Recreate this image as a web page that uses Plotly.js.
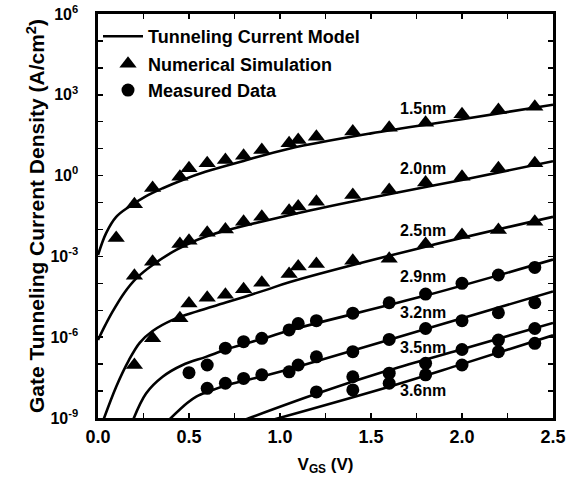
<!DOCTYPE html>
<html><head><meta charset="utf-8">
<script src="https://cdn.plot.ly/plotly-3.0.1.min.js"></script>
<style>html,body{margin:0;padding:0;background:#fff}#chart{width:579px;height:482px}</style>
</head><body><div id="chart"></div>
<script>
// ---- data ----
const thicknessLabels = ['1.5nm','2.0nm','2.5nm','2.9nm','3.2nm','3.5nm','3.6nm'];

// Tunneling current model curves (V_GS in V, J in A/cm^2)
const model15X = [0, 0.044, 0.1, 0.17, 0.26, 0.356, 0.465, 0.59, 0.8, 1.055, 1.5, 2.0, 2.5];
const model15Y = [1.12e-3, 7.2e-3, 0.0295, 0.069, 0.166, 0.34, 0.69, 1.38, 3.5, 10.2, 37, 123, 430];
const model20X = [0, 0.04, 0.08, 0.145, 0.209, 0.3, 0.43, 0.59, 1.055, 1.5, 2.0, 2.5];
const model20Y = [7.9e-7, 2.8e-6, 8.9e-6, 4.5e-5, 1.5e-4, 4.8e-4, 1.74e-3, 5.4e-3, 0.0347, 0.151, 0.69, 3.4];
const model25X = [0.02, 0.1, 0.17, 0.23, 0.3, 0.41, 0.54, 0.72, 0.92, 1.055, 1.8, 2.5];
const model25Y = [5.6e-10, 1.45e-8, 1.41e-7, 6.3e-7, 1.7e-6, 4.4e-6, 8.9e-6, 2.1e-5, 5.6e-5, 1.12e-4, 2.3e-3, 0.0295];
const model29X = [0.185, 0.264, 0.355, 0.465, 0.593, 0.72, 0.923, 1.055, 1.8, 2.5];
const model29Y = [6.3e-10, 8.1e-9, 3.4e-8, 9.3e-8, 1.86e-7, 3.8e-7, 9.5e-7, 1.82e-6, 3.5e-5, 7.6e-4];
const model32X = [0.37, 0.49, 0.54, 0.60, 0.74, 0.90, 1.055, 1.8, 2.5];
const model32Y = [6.3e-10, 3.6e-9, 6.2e-9, 9.3e-9, 1.9e-8, 3.5e-8, 6.6e-8, 2.0e-6, 5.0e-5];
const model35X = [0.72, 1.2, 1.6, 2.0, 2.5];
const model35Y = [5.2e-10, 7.9e-9, 6.0e-8, 3.6e-7, 3.4e-6];
const model36X = [0.9, 1.6, 2.0, 2.5];
const model36Y = [6.6e-10, 1.45e-8, 1.0e-7, 1.17e-6];

// Numerical simulation (triangles)
const sim15X = [0.1, 0.2, 0.3, 0.45, 0.5, 0.6, 0.7, 0.8, 0.9, 1.05, 1.1, 1.2, 1.4, 1.6, 1.8, 2.0, 2.2, 2.4];
const sim15Y = [4.8e-3, 0.087, 0.35, 0.91, 1.86, 2.9, 3.8, 5.5, 8.9, 15.8, 21, 27.5, 43, 60, 91, 190, 275, 363];
const sim20X = [0.2, 0.3, 0.45, 0.5, 0.6, 0.7, 0.8, 0.9, 1.05, 1.1, 1.2, 1.4, 1.6, 1.8, 2.0, 2.2, 2.4];
const sim20Y = [1.9e-4, 6.3e-4, 2.9e-3, 3.8e-3, 7.6e-3, 0.01, 0.0195, 0.0295, 0.05, 0.071, 0.107, 0.19, 0.29, 0.55, 0.91, 1.86, 2.9];
const sim25X = [0.2, 0.3, 0.45, 0.5, 0.6, 0.7, 0.8, 0.9, 1.05, 1.1, 1.2, 1.4, 1.6, 1.8, 2.0, 2.2, 2.4];
const sim25Y = [9.3e-8, 9.1e-7, 5.0e-6, 1.8e-5, 2.9e-5, 3.8e-5, 6.0e-5, 1.05e-4, 2.2e-4, 4.2e-4, 5.2e-4, 6.9e-4, 8.1e-4, 2.9e-3, 6.2e-3, 9.5e-3, 0.0195];

// Measured data (circles)
const meas29X = [0.5, 0.6, 0.7, 0.8, 0.9, 1.05, 1.1, 1.2, 1.4, 1.6, 1.8, 2.0, 2.2, 2.4];
const meas29Y = [4.8e-8, 9.3e-8, 3.9e-7, 6.8e-7, 9.1e-7, 1.86e-6, 3.2e-6, 4.1e-6, 7.8e-6, 1.9e-5, 4.0e-5, 1.0e-4, 2.04e-4, 3.9e-4];
const meas32X = [0.6, 0.7, 0.8, 0.9, 1.05, 1.1, 1.2, 1.4, 1.6, 1.8, 2.0, 2.2, 2.4];
const meas32Y = [1.26e-8, 1.95e-8, 2.95e-8, 4.0e-8, 5.2e-8, 9.3e-8, 1.86e-7, 2.9e-7, 8.3e-7, 2.1e-6, 4.1e-6, 8.1e-6, 1.9e-5];
const meas35X = [1.2, 1.4, 1.6, 1.8, 2.0, 2.2, 2.4];
const meas35Y = [9.3e-9, 3.4e-8, 4.6e-8, 1.07e-7, 3.5e-7, 7.8e-7, 2.1e-6];
const meas36X = [1.4, 1.6, 1.8, 2.0, 2.2, 2.4];
const meas36Y = [1.1e-8, 1.95e-8, 4.0e-8, 9.3e-8, 2.9e-7, 5.9e-7];

// Axis ticks
const xTickVals = [0, 0.5, 1.0, 1.5, 2.0, 2.5];
const xTickText = ['0.0', '0.5', '1.0', '1.5', '2.0', '2.5'];
const xMinorVals = [0.25, 0.75, 1.25, 1.75, 2.25];
const yTickVals = [1e-9, 1e-6, 1e-3, 1, 1e3, 1e6];
const yTickText = ['10<sup>-9</sup>', '10<sup>-6</sup>', '10<sup>-3</sup>', '10<sup>0</sup>', '10<sup>3</sup>', '10<sup>6</sup>'];
const yMinorVals = [1e-8, 1e-7, 1e-5, 1e-4, 1e-2, 1e-1, 10, 100, 1e4, 1e5];

// ---- build traces ----
const FONT = 'Liberation Sans, Arial, Helvetica, sans-serif';
const models = [[model15X, model15Y], [model20X, model20Y], [model25X, model25Y], [model29X, model29Y],
                [model32X, model32Y], [model35X, model35Y], [model36X, model36Y]];
const sims = [[sim15X, sim15Y], [sim20X, sim20Y], [sim25X, sim25Y]];
const meas = [[meas29X, meas29Y], [meas32X, meas32Y], [meas35X, meas35Y], [meas36X, meas36Y]];

const traces = [];
models.forEach((m, i) => traces.push({
  x: m[0], y: m[1], type: 'scatter', mode: 'lines',
  line: {color: '#000', width: 2.6, shape: 'spline', smoothing: 1},
  name: 'Tunneling Current Model', legend: 'legend', legendgroup: 'model', showlegend: i === 0,
  hoverinfo: 'skip'
}));
sims.forEach((s, i) => traces.push({
  x: s[0], y: s[1], type: 'scatter', mode: 'markers',
  marker: {symbol: 'triangle-up', size: 15, color: '#000'},
  name: 'Numerical Simulation', legend: 'legend2', legendgroup: 'sim', showlegend: i === 0,
  hoverinfo: 'skip'
}));
meas.forEach((c, i) => traces.push({
  x: c[0], y: c[1], type: 'scatter', mode: 'markers',
  marker: {symbol: 'circle', size: 13, color: '#000'},
  name: 'Measured Data', legend: 'legend2', legendgroup: 'meas', showlegend: i === 0,
  hoverinfo: 'skip'
}));

// curve label positions (y in log10 units)
const labelY = [2.51, 0.27, -2.05, -3.75, -5.09, -6.38, -7.99];
const annotations = thicknessLabels.map((t, i) => ({
  x: 1.786, y: labelY[i], xref: 'x', yref: 'y', text: t, showarrow: false,
  font: {family: FONT, size: 16, color: '#000', weight: 'bold'}
}));

const tickStyle = {ticks: 'inside', ticklen: 5, tickwidth: 1.5, tickcolor: '#000'};

const layout = {
  width: 579, height: 482,
  margin: {l: 98, r: 26, t: 14, b: 64},
  paper_bgcolor: '#fff', plot_bgcolor: '#fff',
  showlegend: true,
  xaxis: Object.assign({
    range: [0, 2.5], tickmode: 'array', tickvals: xTickVals, ticktext: xTickText,
    minor: Object.assign({tickmode: 'array', tickvals: xMinorVals, showgrid: false}, tickStyle),
    showline: true, linewidth: 2.6, linecolor: '#000', mirror: 'ticks',
    showgrid: false, zeroline: false, ticklabelstandoff: 1,
    tickfont: {family: FONT, size: 18, color: '#000', weight: 'bold'},
    title: {text: 'V<sub>GS</sub> (V)', standoff: 12, font: {family: FONT, size: 17, color: '#000', weight: 'bold'}}
  }, tickStyle),
  yaxis: Object.assign({
    type: 'log', range: [-9, 6], tickmode: 'array', tickvals: yTickVals, ticktext: yTickText,
    minor: Object.assign({tickmode: 'array', tickvals: yMinorVals, showgrid: false}, tickStyle),
    showline: true, linewidth: 2.6, linecolor: '#000', mirror: 'ticks',
    showgrid: false, zeroline: false, ticklabelstandoff: 14,
    tickfont: {family: FONT, size: 16, color: '#000', weight: 'bold'},
    title: {text: 'Gate Tunneling Current Density (A/cm<sup>2</sup>)', standoff: 0,
            font: {family: FONT, size: 21, color: '#000', weight: 'bold'}}
  }, tickStyle),
  legend: {x: 0, xanchor: 'left', y: 0.99, yanchor: 'top', bgcolor: 'rgba(0,0,0,0)', borderwidth: 0,
           itemwidth: 40, font: {family: FONT, size: 18, color: '#000', weight: 'bold'}},
  legend2: {x: 0.022, xanchor: 'left', y: 0.922, yanchor: 'top', bgcolor: 'rgba(0,0,0,0)', borderwidth: 0,
            tracegroupgap: 0, font: {family: FONT, size: 18, color: '#000', weight: 'bold'}},
  annotations: annotations
};

Plotly.newPlot('chart', traces, layout, {staticPlot: true, displayModeBar: false});
</script>
</body></html>
